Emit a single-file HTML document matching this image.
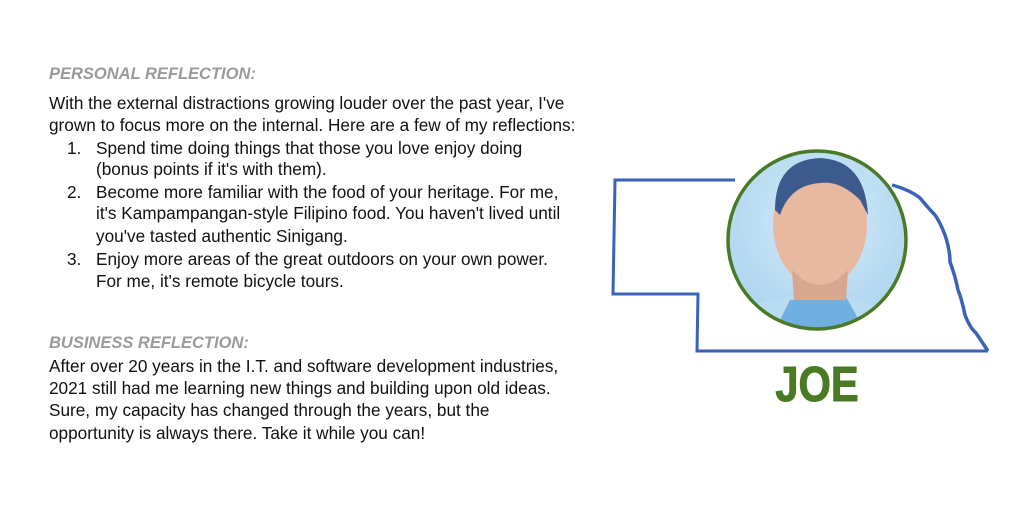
<!DOCTYPE html>
<html><head><meta charset="utf-8"><style>
body{margin:0;width:1024px;height:512px;background:#fff;position:relative;overflow:hidden;font-family:"Liberation Sans",Arial,sans-serif;color:#111;}
.l{position:absolute;font-size:17.2px;line-height:22px;white-space:nowrap;}
.h{color:#9a9a9a;font-weight:bold;font-style:italic;font-size:16.5px;}
.n{left:67px}.t{left:96px}.p{left:49px}
</style></head><body>
<div class="l p h" style="top:63px">PERSONAL REFLECTION:</div>
<div class="l p" style="top:92px">With the external distractions growing louder over the past year, I've</div>
<div class="l p" style="top:114px">grown to focus more on the internal. Here are a few of my reflections:</div>
<div class="l n" style="top:137px">1.</div><div class="l t" style="top:137px">Spend time doing things that those you love enjoy doing</div>
<div class="l t" style="top:158px">(bonus points if it's with them).</div>
<div class="l n" style="top:181px">2.</div><div class="l t" style="top:181px">Become more familiar with the food of your heritage. For me,</div>
<div class="l t" style="top:202px">it's Kampampangan-style Filipino food. You haven't lived until</div>
<div class="l t" style="top:225px">you've tasted authentic Sinigang.</div>
<div class="l n" style="top:248px">3.</div><div class="l t" style="top:248px">Enjoy more areas of the great outdoors on your own power.</div>
<div class="l t" style="top:270px">For me, it's remote bicycle tours.</div>
<div class="l p h" style="top:332px">BUSINESS REFLECTION:</div>
<div class="l p" style="top:355px">After over 20 years in the I.T. and software development industries,</div>
<div class="l p" style="top:377px">2021 still had me learning new things and building upon old ideas.</div>
<div class="l p" style="top:399px">Sure, my capacity has changed through the years, but the</div>
<div class="l p" style="top:422px">opportunity is always there. Take it while you can!</div>

<svg width="1024" height="512" style="position:absolute;left:0;top:0">
<defs>
<radialGradient id="bg" cx="50%" cy="40%" r="60%"><stop offset="0" stop-color="#d8ecf8"/><stop offset="1" stop-color="#a9d2ee"/></radialGradient>
<clipPath id="c"><circle cx="817" cy="240" r="89"/></clipPath>
</defs>
<g fill="none" stroke="#3a62b8" stroke-width="3">
<path d="M735 180 L615 180 L613 294 L698 294 L697 351 L988 351"/>
<path d="M892 185 Q910 190 920 198 Q930 210 935 215 Q940 222 945 235 Q950 250 950 262 Q955 275 958 290 Q962 300 965 315 Q970 328 976 333 Q982 342 988 351" stroke-width="3.5"/>
</g>
<g clip-path="url(#c)">
<rect x="720" y="140" width="200" height="200" fill="url(#bg)"/>
<ellipse cx="815" cy="335" rx="90" ry="40" fill="#b9dcf2"/>
<path d="M770 340 L790 300 L845 295 L870 340Z" fill="#6fb0e0"/>
<ellipse cx="820" cy="225" rx="47" ry="62" fill="#e6b9a0"/>
<path d="M775 210 Q775 160 820 158 Q865 160 868 215 L860 200 Q840 180 820 183 Q790 185 780 215Z" fill="#3d5a8c"/>
<path d="M792 270 Q820 300 848 270 L846 300 L794 300Z" fill="#d7a88f"/>
</g>
<circle cx="817" cy="240" r="89" fill="none" stroke="#4a7a25" stroke-width="3.5"/>
<text x="817" y="401" text-anchor="middle" font-family="Liberation Sans Narrow,Liberation Sans,sans-serif" font-weight="bold" font-size="49" fill="#4a7a25" stroke="#4a7a25" stroke-width="1" transform="translate(817 0) scale(0.85 1) translate(-817 0)">JOE</text>
</svg>
</body></html>
